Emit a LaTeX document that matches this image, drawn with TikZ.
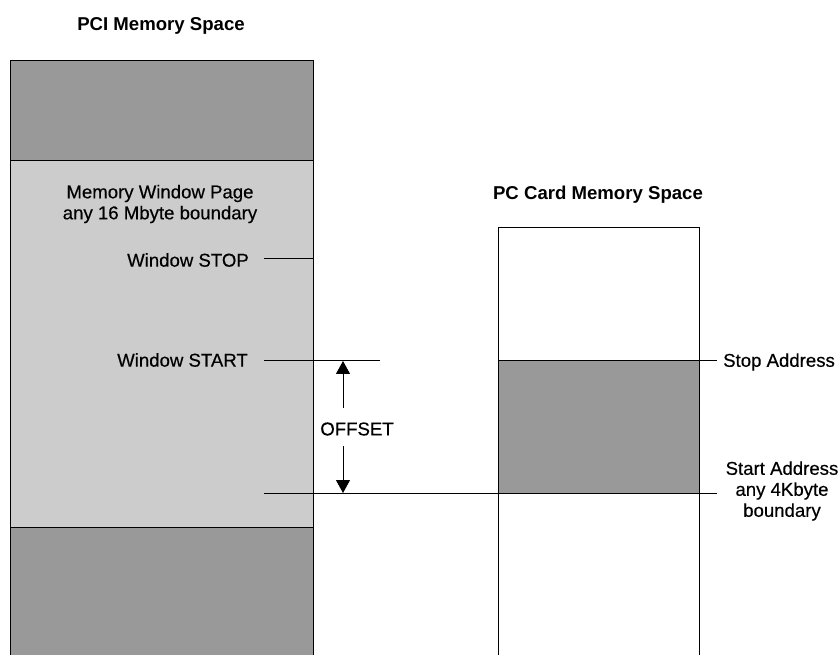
\documentclass[tikz,border=0pt]{standalone}
\usepackage{fontspec}
\setmainfont{Liberation Sans}
\newfontfamily\heavyish[FakeBold=0.4]{Liberation Sans}
\usetikzlibrary{arrows.meta}
\definecolor{darkg}{HTML}{999999}
\definecolor{lightg}{HTML}{CCCCCC}
\tikzset{
  lbl/.style={inner sep=0pt, font=\heavyish\fontsize{18.6}{21}\selectfont, align=center},
  ttl/.style={inner sep=0pt, font=\fontsize{18.6}{21}\selectfont\bfseries},
  ln/.style={line width=1pt, black},
  arr/.style={line width=1pt, -{Triangle[width=14pt,length=13pt]}}
}
\begin{document}
\begin{tikzpicture}[x=1pt,y=-1pt]
\useasboundingbox (0,0) rectangle (839,655);
% left column
\fill[darkg] (10,61) rectangle (313,161);
\fill[lightg] (10,161) rectangle (313,527);
\fill[darkg] (10,527) rectangle (313,655);
\draw[ln] (10,656) -- (10,61) -- (313,61) -- (313,656);
\draw[ln] (10,161) -- (313,161);
\draw[ln] (10,527) -- (313,527);
% right column
\fill[darkg] (498,361) rectangle (699,493);
\draw[ln] (498,656) -- (498,228) -- (699,228) -- (699,656);
\draw[ln] (498,361) -- (699,361);
% titles
\node[ttl] (pcititle) at (161,26) {PCI Memory Space};
\node[ttl] (pctitle) at (598,195) {PC Card Memory Space};
% labels
\node[lbl] (mwp) at (160,204) {Memory Window Page\\any 16 Mbyte boundary};
\node[lbl, anchor=east] (wstop) at (249,260) {Window STOP};
\node[lbl, anchor=east] (wstart) at (248,360) {Window START};
\node[lbl] (offset) at (357,429) {OFFSET};
\node[lbl, anchor=west] (stopa) at (723,362) {Stop Address};
\node[lbl] (starta) at (782,491) {Start Address\\any 4Kbyte\\boundary};
% leader lines
\coordinate (stopR) at (313,259);
\coordinate (startR) at (380,361);
\coordinate (startaL) at (717,493);
\coordinate (stopaL) at (699,361);
\draw[ln] (264,259) -- (stopR);
\draw[ln] (264,361) -- (startR);
\draw[ln] (264,493) -- (startaL);
\draw[ln] (stopaL) -- (717,361);
% offset arrows
\coordinate (aTop) at (343,361);
\coordinate (aBot) at (343,493);
\draw[arr] (343,408) -- (aTop);
\draw[arr] (343,446) -- (aBot);
\end{tikzpicture}
\end{document}
